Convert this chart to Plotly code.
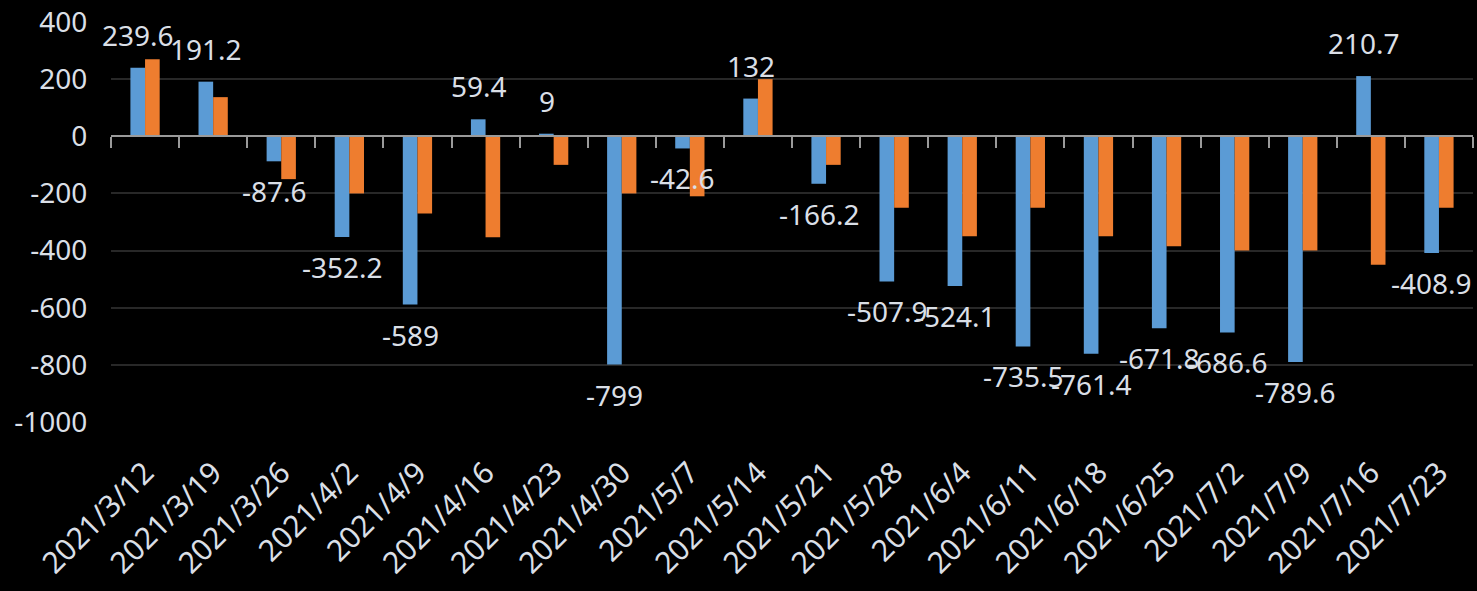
import plotly.graph_objects as go

dates = ["2021/3/12", "2021/3/19", "2021/3/26", "2021/4/2", "2021/4/9", "2021/4/16",
         "2021/4/23", "2021/4/30", "2021/5/7", "2021/5/14", "2021/5/21", "2021/5/28",
         "2021/6/4", "2021/6/11", "2021/6/18", "2021/6/25", "2021/7/2", "2021/7/9",
         "2021/7/16", "2021/7/23"]
blue_vals = [239.6, 191.2, -87.6, -352.2, -589, 59.4, 9, -799, -42.6, 132, -166.2,
             -507.9, -524.1, -735.5, -761.4, -671.8, -686.6, -789.6, 210.7, -408.9]
orange_vals = [270, 137, -150, -200, -270, -353, -100, -200, -210, 200, -100,
               -250, -350, -250, -350, -385, -400, -400, -450, -250]
y_tickvals = [400, 200, 0, -200, -400, -600, -800, -1000]
y_ticktext = ["400", "200", "0", "-200", "-400", "-600", "-800", "-1000"]

TEXT = "#dadfe6"
FONT = "Noto Sans"

fig = go.Figure()
fig.add_trace(go.Bar(x=dates, y=blue_vals, marker=dict(color="#5b9bd5", line=dict(width=0)),
                     hoverinfo="x+y", showlegend=False))
fig.add_trace(go.Bar(x=dates, y=orange_vals, marker=dict(color="#ee7d2f", line=dict(width=0)),
                     hoverinfo="x+y", showlegend=False))
# invisible helper trace for the category axis drawn at zero
fig.add_trace(go.Scatter(x=dates, y=blue_vals, xaxis="x2", mode="markers",
                         marker=dict(opacity=0), hoverinfo="skip", showlegend=False))

annotations = []
for d, v in zip(dates, blue_vals):
    txt = ("%g" % v)
    annotations.append(dict(
        x=d, y=v, xref="x", yref="y", text=txt, showarrow=False,
        xshift=-7, yshift=(12 if v >= 0 else -9),
        yanchor=("bottom" if v >= 0 else "top"), xanchor="center",
        font=dict(family=FONT, size=28, color=TEXT)))

fig.update_layout(
    width=1477, height=591,
    margin=dict(l=111, r=4, t=22, b=169, autoexpand=False),
    paper_bgcolor="#000000", plot_bgcolor="#000000",
    barmode="group", bargap=0.57, bargroupgap=0,
    font=dict(family=FONT, size=28, color=TEXT),
    annotations=annotations,
    xaxis=dict(type="category", categoryorder="array", categoryarray=dates,
               range=[-0.5, len(dates) - 0.5],
               showgrid=False, showline=False, zeroline=False,
               tickangle=-45, ticks="outside", ticklen=20, tickcolor="rgba(0,0,0,0)",
               tickfont=dict(family=FONT, size=30, color=TEXT), automargin=False),
    xaxis2=dict(type="category", categoryorder="array", categoryarray=dates,
                range=[-0.5, len(dates) - 0.5], overlaying="x", anchor="free",
                position=1000 / 1400, side="bottom",
                showgrid=False, zeroline=False, showline=True, linecolor="#9a9a9a",
                linewidth=2, ticks="outside", tickson="boundaries", ticklen=11,
                tickwidth=2, tickcolor="#9a9a9a", showticklabels=False),
    yaxis=dict(range=[-1000, 400], tickvals=y_tickvals, ticktext=y_ticktext,
               showgrid=True, gridcolor="#282828", gridwidth=2, zeroline=False,
               showline=False, ticks="outside", ticklen=17, tickcolor="rgba(0,0,0,0)",
               tickfont=dict(family=FONT, size=28, color=TEXT), automargin=False),
)

fig.write_html("out.html", config={"displayModeBar": False},
               post_script="document.body.style.margin='0';document.body.style.background='#000';")
